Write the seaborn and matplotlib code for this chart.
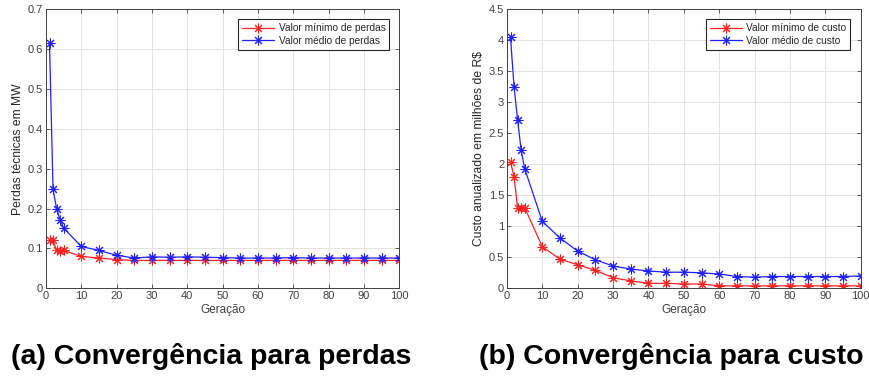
import matplotlib
matplotlib.use("Agg")
import matplotlib.pyplot as plt
import seaborn as sns
import pandas as pd

geracao = [1, 2, 3, 4, 5, 10, 15, 20, 25, 30, 35, 40, 45, 50, 55, 60, 65, 70, 75, 80, 85, 90, 95, 100]
perdas_min = [0.12, 0.12, 0.095, 0.093, 0.095, 0.080, 0.076, 0.072, 0.070, 0.070, 0.070, 0.070,
              0.070, 0.070, 0.070, 0.070, 0.070, 0.070, 0.070, 0.070, 0.070, 0.070, 0.070, 0.070]
perdas_med = [0.615, 0.248, 0.200, 0.172, 0.151, 0.105, 0.095, 0.083, 0.076, 0.079, 0.078, 0.079,
              0.078, 0.077, 0.076, 0.076, 0.076, 0.077, 0.076, 0.076, 0.076, 0.076, 0.076, 0.076]
custo_min = [2.04, 1.80, 1.30, 1.30, 1.30, 0.67, 0.47, 0.38, 0.29, 0.17, 0.12, 0.08,
             0.08, 0.07, 0.07, 0.04, 0.04, 0.04, 0.04, 0.04, 0.04, 0.04, 0.04, 0.04]
custo_med = [4.05, 3.25, 2.72, 2.23, 1.93, 1.08, 0.81, 0.60, 0.46, 0.36, 0.31, 0.28,
             0.26, 0.26, 0.25, 0.23, 0.19, 0.18, 0.19, 0.19, 0.19, 0.19, 0.19, 0.20]

labels_a = ["Valor mínimo de perdas", "Valor médio de perdas"]
labels_b = ["Valor mínimo de custo", "Valor médio de custo"]
captions = ["(a) Convergência para perdas", "(b) Convergência para custo"]

sns.set_theme(style="whitegrid")
plt.rcParams['font.family'] = ['Liberation Sans', 'DejaVu Sans']

fig = plt.figure(figsize=(8.69, 3.76), dpi=100)
ax1 = fig.add_axes([0.0529, 0.2332, 0.4066, 0.7421])
ax2 = fig.add_axes([0.5834, 0.2332, 0.4070, 0.7421])

asterisk = (8, 2, 0)

def style_line(line):
    line.set_marker(asterisk)
    line.set_markersize(7)
    line.set_markeredgewidth(0.75)
    line.set_markeredgecolor(line.get_color())
    line.set_markerfacecolor(line.get_color())
    line.set_linestyle("-")
    line.set_linewidth(0.9)

def draw(ax, ymin, ymed, labels, ylim, yticks, ylabel, legend_bbox):
    df = pd.DataFrame({
        "Geração": geracao * 2,
        "valor": ymin + ymed,
        "serie": [labels[0]] * len(geracao) + [labels[1]] * len(geracao),
    })
    sns.lineplot(data=df, x="Geração", y="valor", hue="serie",
                 palette={labels[0]: "#ff2020", labels[1]: "#2020ff"},
                 marker="o", linewidth=0.9, ax=ax, legend=True)
    for line in ax.lines:
        style_line(line)
    ax.set_xlim(0, 100)
    ax.set_ylim(*ylim)
    ax.set_xticks(range(0, 101, 10))
    ax.set_yticks(yticks)
    ax.set_yticklabels([("%g" % t) for t in yticks])
    ax.set_xlabel("Geração", fontsize=8.5, color="#404040", labelpad=2)
    ax.set_ylabel(ylabel, fontsize=8.7, color="#262626", labelpad=3)
    ax.grid(True, color="#e3e3e3", linewidth=0.7)
    ax.tick_params(axis="both", labelsize=8, colors="#404040", direction="in",
                   length=3, width=0.6, pad=2, top=True, right=True,
                   bottom=True, left=True)
    for s in ax.spines.values():
        s.set_color("#404040")
        s.set_linewidth(0.7)
    h, l = ax.get_legend_handles_labels()
    leg = ax.legend(h, l, loc="upper left", bbox_to_anchor=legend_bbox,
                    bbox_transform=fig.transFigure, fontsize=7.3, frameon=True,
                    fancybox=False, framealpha=1, edgecolor="#262626",
                    borderpad=0.4, handlelength=3.2, labelspacing=0.25,
                    handletextpad=0.4, borderaxespad=0)
    leg.get_frame().set_linewidth(0.8)
    for hl in leg.get_lines():
        style_line(hl)

draw(ax1, perdas_min, perdas_med, labels_a, (0, 0.7),
     [0, 0.1, 0.2, 0.3, 0.4, 0.5, 0.6, 0.7], "Perdas técnicas em MW",
     (238 / 869, 1 - 19 / 376))
draw(ax2, custo_min, custo_med, labels_b, (0, 4.5),
     [0, 0.5, 1, 1.5, 2, 2.5, 3, 3.5, 4, 4.5], "Custo anualizado em milhões de R$",
     (705.7 / 869, 1 - 19 / 376))

fig.text(11 / 869, 1 - 356 / 376, captions[0], fontsize=20.5, fontweight="bold",
         va="center", ha="left", color="black")
fig.text(479 / 869, 1 - 356 / 376, captions[1], fontsize=20.5, fontweight="bold",
         va="center", ha="left", color="black")

fig.savefig("out.png", dpi=100)
